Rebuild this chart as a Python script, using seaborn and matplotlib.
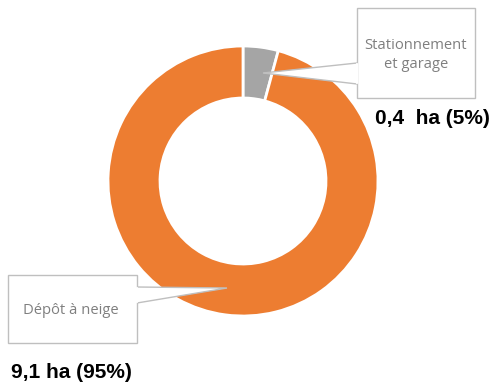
import matplotlib
matplotlib.use("Agg")
import matplotlib.pyplot as plt
import seaborn as sns
from matplotlib.patches import Rectangle, Polygon

# Data
categories = ["Stationnement\net garage", "Dépôt à neige"]
values = [0.4, 9.1]
value_labels = ["0,4  ha (5%)", "9,1 ha (95%)"]
colors = ["#A5A5A5", "#ED7D31"]

sns.set_theme(style="white")
plt.rcParams['font.family'] = ['Open Sans', 'DejaVu Sans']

W, H = 498, 386
fig = plt.figure(figsize=(W / 100, H / 100), dpi=100)
ax = fig.add_axes([0, 0, 1, 1])

def py(y):
    # pixel y (from top) -> data y
    return H - y

# Donut
ax.pie(values, colors=colors, startangle=90, counterclock=False,
       center=(243, py(181)), radius=135, frame=True,
       wedgeprops=dict(width=52, edgecolor="white", linewidth=2))
ax.set_xlim(0, W)
ax.set_ylim(0, H)
ax.set_aspect("equal")
ax.axis("off")

# Callout boxes: (x0, y0, x1, y1) in pixels, pointer (base top, tip, base bottom)
boxes = [
    dict(rect=(357, 8, 475, 98), ptr=[(357, 63), (263, 73), (357, 84)],
         text_xy=(416, 55)),
    dict(rect=(8, 275, 137, 343), ptr=[(137, 287), (227, 288), (137, 303)],
         text_xy=(71, 310)),
]
edge = "#BFBFBF"
for b, cat in zip(boxes, categories):
    x0, y0, x1, y1 = b["rect"]
    ax.add_patch(Rectangle((x0, py(y1)), x1 - x0, y1 - y0, facecolor="white",
                           edgecolor=edge, linewidth=1, zorder=5))
    pts = [(x, py(y)) for x, y in b["ptr"]]
    ax.add_patch(Polygon(pts, closed=False, facecolor="white", edgecolor=edge,
                         linewidth=1, zorder=6))
    # cover the box edge where the pointer joins
    ax.plot([pts[0][0], pts[2][0]], [pts[0][1] - 0.8, pts[2][1] + 0.8],
            color="white", linewidth=1.6, zorder=7)
    ax.text(b["text_xy"][0], py(b["text_xy"][1]), cat, ha="center", va="center",
            fontsize=10.6, color="#7F7F7F", linespacing=1.45, zorder=8)

# Value labels
ax.text(432, py(118), value_labels[0], ha="center", va="center",
        fontsize=15, fontweight="bold", color="black", family="Liberation Sans")
ax.text(71, py(372), value_labels[1], ha="center", va="center",
        fontsize=15, fontweight="bold", color="black", family="Liberation Sans")

fig.savefig("out.png", dpi=100)
